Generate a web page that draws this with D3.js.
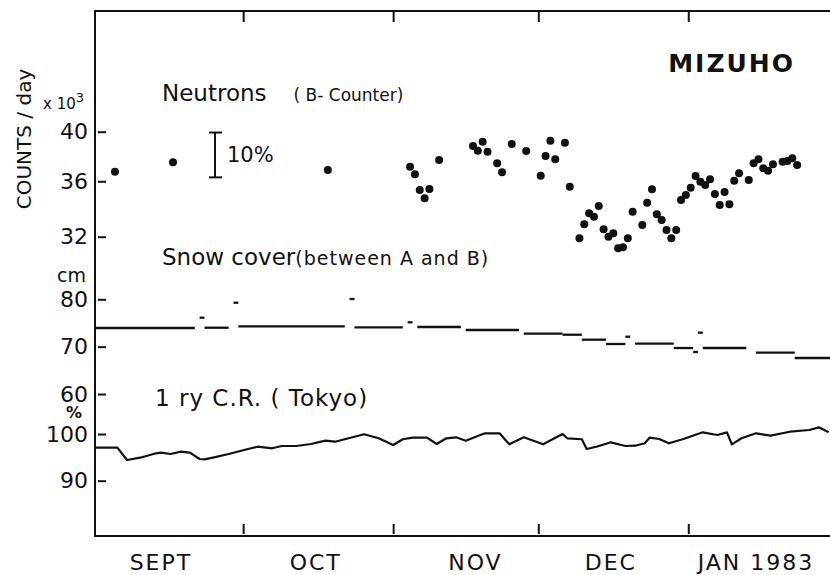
<!DOCTYPE html>
<html>
<head>
<meta charset="utf-8">
<script src="https://cdn.jsdelivr.net/npm/d3@7"></script>
<style>
  body { margin: 0; background: #fff; }
  svg { display: block; font-family: "DejaVu Sans", sans-serif; fill: #111; }
  .frame { stroke: #111; stroke-width: 2; fill: none; }
  .snow { stroke: #111; stroke-width: 2.3; }
  .tokyo { stroke: #111; stroke-width: 2.2; fill: none; stroke-linejoin: round; }
  .dot { fill: #111; }
</style>
</head>
<body>
<svg id="chart" width="830" height="575"></svg>
<script>
// neutron counts, Mizuho B-counter (x 10^3 counts/day)
const neutronDates = [
  "1982-09-04", "1982-09-16", "1982-10-18",
  "1982-11-04", "1982-11-05", "1982-11-06", "1982-11-07", "1982-11-08", "1982-11-10",
  "1982-11-17", "1982-11-18", "1982-11-19", "1982-11-20", "1982-11-22", "1982-11-23",
  "1982-11-25", "1982-11-28",
  "1982-12-01", "1982-12-02", "1982-12-03", "1982-12-04", "1982-12-06", "1982-12-07",
  "1982-12-09", "1982-12-10", "1982-12-11", "1982-12-12", "1982-12-13", "1982-12-14",
  "1982-12-15", "1982-12-16", "1982-12-17", "1982-12-18", "1982-12-19", "1982-12-20",
  "1982-12-22", "1982-12-23", "1982-12-24", "1982-12-25", "1982-12-26", "1982-12-27",
  "1982-12-28", "1982-12-29", "1982-12-30", "1982-12-31",
  "1983-01-01", "1983-01-02", "1983-01-03", "1983-01-04", "1983-01-05", "1983-01-06",
  "1983-01-07", "1983-01-08", "1983-01-09", "1983-01-10", "1983-01-11", "1983-01-13",
  "1983-01-14", "1983-01-15", "1983-01-16", "1983-01-17", "1983-01-18", "1983-01-20",
  "1983-01-21", "1983-01-22", "1983-01-23"
]
const neutronCounts = [
  36.74, 37.48, 36.87,
  37.13, 36.54, 35.34, 34.72, 35.41, 37.66,
  38.80, 38.42, 39.16, 38.34, 37.40, 36.69,
  38.97, 38.39,
  36.43, 37.99, 39.24, 37.72, 39.08, 35.59,
  31.89, 32.85, 33.63, 33.39, 34.16, 32.51,
  32.00, 32.23, 31.22, 31.29, 31.89, 33.75,
  32.80, 34.40, 35.39, 33.56, 33.16, 32.46,
  31.89, 32.46, 34.60, 34.96,
  35.51, 36.40, 35.97, 35.72, 36.15, 35.04,
  34.23, 35.19, 34.28, 36.04, 36.62, 36.10,
  37.40, 37.72, 37.01, 36.82, 37.32, 37.53,
  37.58, 37.80, 37.27
]

// snow cover between A and B (cm), constant between readings
const snowStart = [
  "1982-08-31", "1982-09-22", "1982-09-23", "1982-09-29", "1982-09-30", "1982-10-23",
  "1982-10-24", "1982-11-04", "1982-11-06", "1982-11-16", "1982-11-28", "1982-12-06",
  "1982-12-10", "1982-12-15", "1982-12-19", "1982-12-21", "1982-12-29", "1983-01-02",
  "1983-01-03", "1983-01-04", "1983-01-15", "1983-01-23"
]
const snowEnd = [
  "1982-09-21", "1982-09-23", "1982-09-28", "1982-09-30", "1982-10-22", "1982-10-24",
  "1982-11-03", "1982-11-05", "1982-11-15", "1982-11-27", "1982-12-06", "1982-12-10",
  "1982-12-15", "1982-12-19", "1982-12-20", "1982-12-29", "1983-01-02", "1983-01-03",
  "1983-01-04", "1983-01-13", "1983-01-23", "1983-01-31"
]
const snowDepth = [
  73.94, 76.11, 74.00, 79.28, 74.30, 80.06,
  74.09, 75.14, 74.15, 73.52, 72.73, 72.52,
  71.47, 70.56, 72.10, 70.62, 69.71, 68.87,
  72.95, 69.71, 68.72, 67.60
]

// primary cosmic rays, Tokyo (%)
const tokyoDates = [
  "1982-08-31", "1982-09-05", "1982-09-07", "1982-09-10", "1982-09-11", "1982-09-13",
  "1982-09-14", "1982-09-16", "1982-09-18", "1982-09-20", "1982-09-22", "1982-09-23",
  "1982-09-25", "1982-09-28", "1982-10-02", "1982-10-04", "1982-10-07", "1982-10-09",
  "1982-10-12", "1982-10-15", "1982-10-18", "1982-10-20", "1982-10-24", "1982-10-26",
  "1982-10-29", "1982-11-01", "1982-11-03", "1982-11-05", "1982-11-08", "1982-11-10",
  "1982-11-12", "1982-11-14", "1982-11-16", "1982-11-19", "1982-11-20", "1982-11-23",
  "1982-11-25", "1982-11-28", "1982-12-02", "1982-12-06", "1982-12-07", "1982-12-10",
  "1982-12-11", "1982-12-13", "1982-12-16", "1982-12-19", "1982-12-21", "1982-12-23",
  "1982-12-24", "1982-12-26", "1982-12-28", "1982-12-31", "1983-01-04", "1983-01-07",
  "1983-01-09", "1983-01-10", "1983-01-12", "1983-01-15", "1983-01-18", "1983-01-22",
  "1983-01-26", "1983-01-28", "1983-01-30"
]
const tokyoPct = [
  97.07, 97.07, 94.43, 95.01, 95.29, 95.87,
  96.00, 95.72, 96.21, 96.00, 94.65, 94.58,
  95.01, 95.72, 96.79, 97.28, 96.94, 97.43,
  97.43, 97.86, 98.57, 98.35, 99.42, 99.94,
  99.08, 97.64, 98.87, 99.21, 99.21, 97.86,
  99.08, 99.29, 98.57, 99.79, 100.15, 100.15,
  97.79, 99.29, 97.79, 100.00, 99.08, 98.87,
  96.79, 97.28, 98.22, 97.43, 97.49, 98.01,
  99.21, 98.93, 98.01, 98.93, 100.36, 99.79,
  100.36, 97.79, 99.08, 100.15, 99.64, 100.49,
  100.86, 101.43, 100.36
]

const neutronTicks = [32, 36, 40]
const snowTicks = [60, 70, 80]
const pctTicks = [90, 100]
const monthTicks = ["1982-10-01", "1982-11-01", "1982-12-01", "1983-01-01"]
const monthNames = ["SEPT", "OCT", "NOV", "DEC", "JAN 1983"]
const monthLabelAt = ["1982-09-14", "1982-10-16", "1982-11-18", "1982-12-16", "1983-01-15"]
const tenPctBase = 36.3

const parse = d3.timeParse("%Y-%m-%d")
const noon = d => d3.timeHour.offset(parse(d), 12)

const plotLeft = 95, plotRight = 830, plotTop = 11, plotBottom = 536

const x = d3.scaleTime()
  .domain([new Date(1982, 7, 31, 9), new Date(1983, 0, 30, 7)])
  .range([plotLeft, plotRight])

const yN = d3.scaleLog().domain([32, 40]).range([236.7, 131.7])
const yS = d3.scaleLinear().domain([60, 80]).range([394, 299.3])
const yP = d3.scaleLinear().domain([90, 100]).range([480.7, 434])

const svg = d3.select("#chart")

svg.append("defs").append("clipPath").attr("id", "plot")
  .append("rect")
  .attr("x", plotLeft).attr("y", plotTop)
  .attr("width", plotRight - plotLeft).attr("height", plotBottom - plotTop)

// frame
svg.append("path")
  .attr("class", "frame")
  .attr("d", `M${plotRight},${plotTop}H${plotLeft}V${plotBottom}H${plotRight}`)

// month ticks, top and bottom
svg.append("g")
  .attr("transform", `translate(0,${plotTop})`)
  .call(d3.axisTop(x).tickValues(monthTicks.map(parse)).tickSize(-11).tickFormat(""))
  .call(g => g.select(".domain").remove())
  .call(g => g.selectAll(".tick line").attr("stroke", "#111").attr("stroke-width", 2))

svg.append("g")
  .attr("transform", `translate(0,${plotBottom})`)
  .call(d3.axisBottom(x).tickValues(monthTicks.map(parse)).tickSize(-12).tickFormat(""))
  .call(g => g.select(".domain").remove())
  .call(g => g.selectAll(".tick line").attr("y1", -2).attr("stroke", "#111").attr("stroke-width", 2))

svg.selectAll(".month")
  .data(monthNames)
  .enter().append("text")
    .attr("class", "month")
    .attr("x", (d, i) => x(parse(monthLabelAt[i])))
    .attr("y", 570)
    .attr("text-anchor", "middle")
    .attr("font-size", 22)
    .attr("letter-spacing", 2)
    .text(d => d)

// left axes
const leftAxis = (scale, ticks) => g => g
  .attr("transform", `translate(${plotLeft},0)`)
  .call(d3.axisLeft(scale).tickValues(ticks).tickSize(-11).tickPadding(7).tickFormat(d3.format("d")))
  .call(g => g.select(".domain").remove())
  .call(g => g.selectAll(".tick line").attr("x1", 3).attr("stroke", "#111").attr("stroke-width", 2))
  .call(g => g.selectAll(".tick text").attr("fill", "#111"))
  .attr("font-size", 22)
  .attr("font-family", null)

svg.append("g").call(leftAxis(yN, neutronTicks))
svg.append("g").call(leftAxis(yS, snowTicks))
svg.append("g").call(leftAxis(yP, pctTicks))

// axis captions
svg.append("text")
  .attr("transform", "translate(31,139) rotate(-90)")
  .attr("text-anchor", "middle")
  .attr("font-size", 20)
  .text("COUNTS / day")

const e3 = svg.append("text")
  .attr("x", 43).attr("y", 109)
  .attr("font-size", 15)
e3.append("tspan").text("x 10")
e3.append("tspan").attr("dy", -7).attr("font-size", 13).text("3")

svg.append("text")
  .attr("x", 86).attr("y", 282)
  .attr("text-anchor", "end")
  .attr("font-size", 19)
  .text("cm")

svg.append("text")
  .attr("x", 82).attr("y", 418)
  .attr("text-anchor", "end")
  .attr("font-size", 16)
  .attr("font-weight", "bold")
  .text("%")

// titles
svg.append("text")
  .attr("x", 795).attr("y", 72)
  .attr("text-anchor", "end")
  .attr("font-size", 25)
  .attr("font-weight", "bold")
  .attr("letter-spacing", 2)
  .text("MIZUHO")

const tN = svg.append("text").attr("x", 162).attr("y", 101).attr("font-size", 23)
tN.append("tspan").text("Neutrons")
tN.append("tspan").attr("dx", 27).attr("font-size", 17).text("( B- Counter)")

const tS = svg.append("text").attr("x", 162).attr("y", 265).attr("font-size", 23)
tS.append("tspan").text("Snow cover")
tS.append("tspan").attr("font-size", 19).attr("letter-spacing", 1).text("(between A and B)")

svg.append("text")
  .attr("x", 155).attr("y", 406)
  .attr("font-size", 23)
  .attr("letter-spacing", 1)
  .text("1 ry  C.R. ( Tokyo)")

// 10% scale bar on the log axis
const bar = svg.append("g").attr("stroke", "#111").attr("stroke-width", 2)
bar.append("line")
  .attr("x1", 215).attr("x2", 215)
  .attr("y1", yN(tenPctBase)).attr("y2", yN(tenPctBase * 1.1))
bar.selectAll(".serif")
  .data([tenPctBase, tenPctBase * 1.1])
  .enter().append("line")
    .attr("x1", 209).attr("x2", 222)
    .attr("y1", d => yN(d)).attr("y2", d => yN(d))

svg.append("text")
  .attr("x", 227).attr("y", 162)
  .attr("font-size", 21)
  .text("10%")

const plot = svg.append("g").attr("clip-path", "url(#plot)")

// neutron dots
plot.selectAll(".dot")
  .data(neutronDates)
  .enter().append("circle")
    .attr("class", "dot")
    .attr("r", 4)
    .attr("cx", d => x(noon(d)))
    .attr("cy", (d, i) => yN(neutronCounts[i]))

// snow cover segments
plot.selectAll(".snow")
  .data(snowDepth)
  .enter().append("line")
    .attr("class", "snow")
    .attr("x1", (d, i) => x(parse(snowStart[i])))
    .attr("x2", (d, i) => x(parse(snowEnd[i])))
    .attr("y1", d => yS(d))
    .attr("y2", d => yS(d))

// Tokyo primary cosmic ray line
const tokyoLine = d3.line()
  .x(d => x(parse(d)))
  .y((d, i) => yP(tokyoPct[i]))

plot.append("path")
  .datum(tokyoDates)
  .attr("class", "tokyo")
  .attr("d", tokyoLine)
</script>
</body>
</html>
